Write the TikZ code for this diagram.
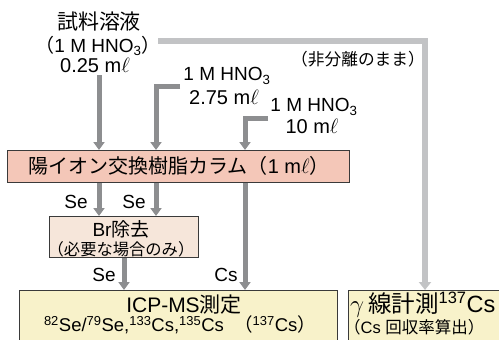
\documentclass[tikz,border=0pt]{standalone}
\usepackage{fontspec}
\setmainfont{Liberation Sans}
\newfontfamily\jp{Noto Sans CJK JP}
\usetikzlibrary{arrows.meta}
\definecolor{dg}{HTML}{8D8E90}
\definecolor{lg}{HTML}{C2C3C5}
\definecolor{pinkf}{HTML}{F4C7B8}
\definecolor{beigef}{HTML}{F6E6DA}
\definecolor{yelf}{HTML}{F8F2CA}
\definecolor{edge}{HTML}{3A3A3A}
\newcommand{\fs}[1]{\fontsize{#1}{#1}\selectfont}
\newcommand{\myell}{$\ell$}
\begin{document}
\begin{tikzpicture}[x=1pt,y=-1pt,
 darr/.style={draw=dg, line width=5pt, -{Triangle[width=11pt,length=8pt]}, line join=miter},
 larr/.style={draw=lg, line width=6pt, -{Triangle[width=12pt,length=8pt]}, line join=miter},
 box/.style={draw=edge, line width=0.9pt, inner sep=0pt},
 lab/.style={inner sep=0pt, text=black}]
\clip (0,0) rectangle (499,340);

% boxes
\node[box, fill=pinkf, minimum width=342pt, minimum height=32pt, anchor=north west] (col) at (7,150) {};
\node[box, fill=beigef, minimum width=149pt, minimum height=41pt, anchor=north west] (br) at (49,216) {};
\node[box, fill=yelf, minimum width=318pt, minimum height=80pt, anchor=north west] (icp) at (19,290) {};
\node[box, fill=yelf, minimum width=170pt, minimum height=80pt, anchor=north west] (gam) at (348,290) {};

% texts
\node[lab, font=\jp\fs{21}] (t1) at (99,22) {試料溶液};
\node[lab, font=\fs{19}] (t2) at (98,46) {{\jp （}1 M HNO\textsubscript{3}{\jp ）}};
\node[lab, font=\fs{20}] (t3) at (95,65) {0.25 m\myell};
\node[lab, font=\fs{19}] (t4) at (227,76) {1 M HNO\textsubscript{3}};
\node[lab, font=\fs{20}] (t5) at (224,97) {2.75 m\myell};
\node[lab, font=\fs{19}] (t6) at (314,107) {1 M HNO\textsubscript{3}};
\node[lab, font=\fs{20}] (t7) at (312,126) {10 m\myell};
\node[lab, font=\jp\fs{16.7}] (t8) at (358,59) {（非分離のまま）};
\node[lab, font=\fs{20}] (t9) at (179,166) {{\jp 陽イオン交換樹脂カラム（}1 m\myell{\jp ）}};
\node[lab, font=\fs{19}] (se1) at (76,202) {Se};
\node[lab, font=\fs{19}] (se2) at (134,202) {Se};
\node[lab, font=\fs{19}] (t10) at (121,229) {Br{\jp 除去}};
\node[lab, font=\jp\fs{16.3}] (t11) at (121,249) {（必要な場合のみ）};
\node[lab, font=\fs{19}] (se3) at (104,275) {Se};
\node[lab, font=\fs{19}] (cs) at (226,275) {Cs};
\node[lab, font=\fs{21}] (t12) at (184,305) {ICP-MS{\jp 測定}};
\node[lab, font=\fs{18.5}] (t13) at (180,325) {\textsuperscript{82}Se/\textsuperscript{79}Se,\textsuperscript{133}Cs,\textsuperscript{135}Cs\ \ {\jp （}\textsuperscript{137}Cs{\jp ）}};
\node[lab, font=\fs{23.5}, anchor=west] (t14) at (350,305) {$\gamma$\,{\jp 線計測}\textsuperscript{137}Cs};
\node[lab, font=\fs{16.5}, anchor=west] (t15) at (344,327) {{\jp （}Cs {\jp 回収率算出）}};

% connectors
\coordinate (a1) at (99,75);
\coordinate (a2) at (180,86);
\coordinate (c2) at (156,86);
\coordinate (a3) at (268,118);
\coordinate (c3) at (245,118);
\coordinate (a4) at (124,0);
\coordinate (l0) at (158,41);
\coordinate (l1) at (425,41);

\draw[larr] (l0) -- (l1) -- (l1 |- gam.north);
\draw[darr] (a1) -- (a1 |- col.north);
\draw[darr] (a2) -- (c2) -- (c2 |- col.north);
\draw[darr] (a3) -- (c3) -- (c3 |- col.north);
\draw[darr] (col.south -| a1) -- (br.north -| a1);
\draw[darr] (col.south -| c2) -- (br.north -| c2);
\draw[darr] (br.south -| a4) -- (icp.north -| a4);
\draw[darr] (col.south -| c3) -- (icp.north -| c3);
\end{tikzpicture}
\end{document}
